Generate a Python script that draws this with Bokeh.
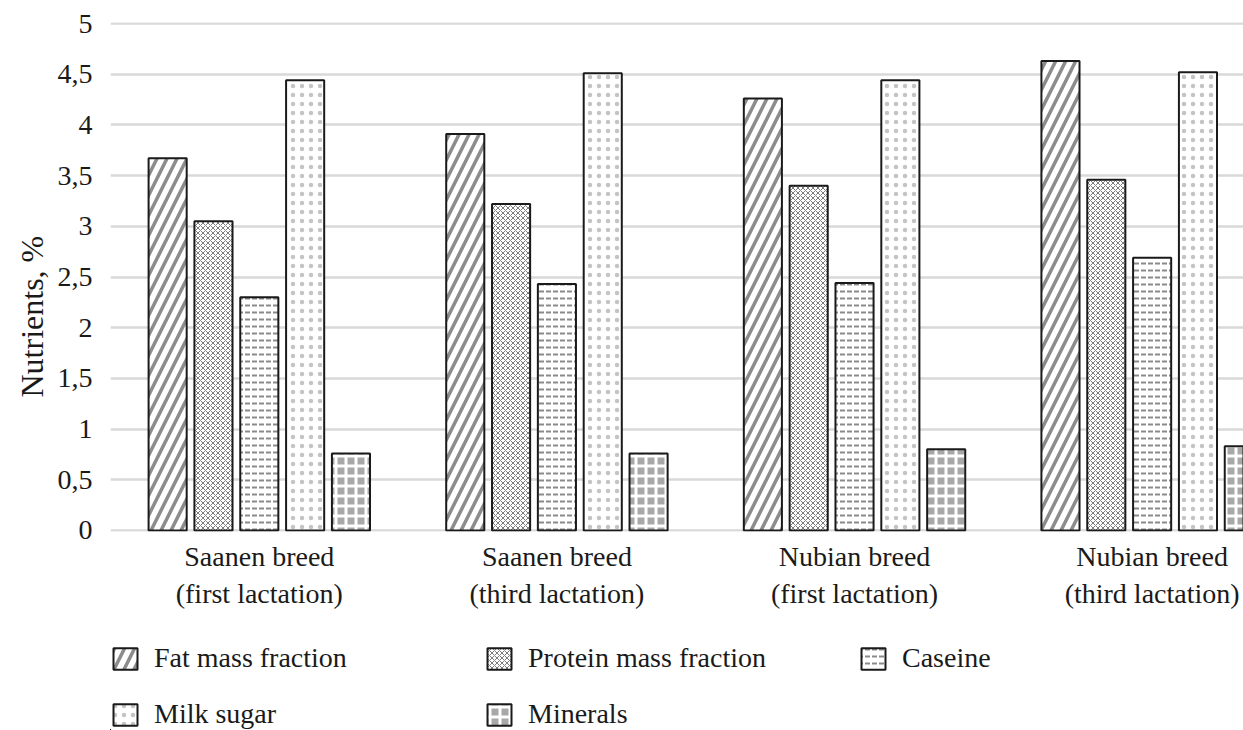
from bokeh.plotting import figure
from bokeh.models import (ColumnDataSource, Range1d, FixedTicker, LinearAxis,
                          Legend, LegendItem, Title)
from bokeh.layouts import column
from bokeh.transform import dodge
from bokeh.embed import file_html
from bokeh.resources import INLINE

# Milk composition by breed and lactation, %
breed = ["Saanen breed", "Saanen breed", "Nubian breed", "Nubian breed"]
lactation = ["(first lactation)", "(third lactation)", "(first lactation)", "(third lactation)"]
fat = [3.67, 3.91, 4.26, 4.63]
protein = [3.05, 3.22, 3.40, 3.46]
caseine = [2.30, 2.43, 2.44, 2.69]
milk_sugar = [4.44, 4.51, 4.44, 4.52]
minerals = [0.76, 0.76, 0.80, 0.83]
series_names = ["Fat mass fraction", "Protein mass fraction", "Caseine",
                "Milk sugar", "Minerals"]
y_ticks = [0, 0.5, 1, 1.5, 2, 2.5, 3, 3.5, 4, 4.5, 5]

FONT = "Liberation Serif"
FS = "28px"
TEXT = "#1a1a1a"

pos = list(range(len(breed)))
src = ColumnDataSource(dict(x=pos, fat=fat, protein=protein, caseine=caseine,
                            sugar=milk_sugar, minerals=minerals))

cols = ["fat", "protein", "caseine", "sugar", "minerals"]
styles = [
    dict(fill_color="white", hatch_pattern="right_diagonal_line",
         hatch_color="#8c8c8c", hatch_weight=3.5, hatch_scale=20),
    dict(fill_color="white", hatch_pattern="diagonal_cross",
         hatch_color="#7c7c7c", hatch_weight=1, hatch_scale=5),
    dict(fill_color="white", hatch_pattern="horizontal_dash",
         hatch_color="#8a8a8a", hatch_weight=2, hatch_scale=7),
    dict(fill_color="white", hatch_pattern="dot",
         hatch_color="#c4c4c4", hatch_weight=1, hatch_scale=9),
    dict(fill_color="#a8a8a8", hatch_pattern="cross",
         hatch_color="white", hatch_weight=3, hatch_scale=10),
]
step = 0.154
width = 0.128

p = figure(width=1243, height=618, output_backend="svg", toolbar_location=None,
           x_range=Range1d(-0.5, 3.307), y_range=Range1d(-0.01, 5.01),
           min_border_left=110, min_border_right=0, min_border_top=22,
           min_border_bottom=87, x_axis_type=None)
p.outline_line_color = None
p.background_fill_color = "white"
p.border_fill_color = "white"

# y axis with comma decimals
p.yaxis.ticker = FixedTicker(ticks=y_ticks)
p.yaxis.major_label_overrides = {t: (f"{t:g}".replace(".", ",")) for t in y_ticks}
p.yaxis.axis_line_color = None
p.yaxis.major_tick_line_color = None
p.yaxis.minor_tick_line_color = None
p.yaxis.major_label_text_font = FONT
p.yaxis.major_label_text_font_size = FS
p.yaxis.major_label_text_color = TEXT
p.yaxis.major_label_standoff = 12

p.ygrid.ticker = FixedTicker(ticks=y_ticks)
p.ygrid.grid_line_color = "#d9d9d9"
p.ygrid.grid_line_width = 2.5
p.xgrid.visible = False

# two stacked category axes: breed on the first line, lactation on the second
for labels, standoff in ((breed, 3), (lactation, -3)):
    ax = LinearAxis(ticker=FixedTicker(ticks=pos),
                    major_label_overrides={i: s for i, s in enumerate(labels)})
    ax.axis_line_color = None
    ax.major_tick_line_color = None
    ax.minor_tick_line_color = None
    ax.major_label_text_font = FONT
    ax.major_label_text_font_size = FS
    ax.major_label_text_color = TEXT
    ax.major_label_standoff = standoff
    p.add_layout(ax, "below")

# vertical axis title
p.add_layout(Title(text="Nutrients, %", text_font=FONT, text_font_size="32px",
                   text_font_style="normal", text_color=TEXT, align="left",
                   offset=134), "left")

for col, st in zip(cols, styles):
    p.vbar(x=dodge("x", (cols.index(col) - 2) * step), top=col, width=width,
           bottom=0, source=src, line_color="#1a1a1a", line_width=2, **st)

# legend strip underneath; its swatches come from the same bar styles,
# drawn well outside this strip's visible ranges
leg = figure(width=1243, height=112, output_backend="svg", toolbar_location=None,
             x_range=Range1d(100, 101), y_range=Range1d(100, 101),
             min_border=0, x_axis_type=None, y_axis_type=None)
leg.outline_line_color = None
leg.grid.visible = False
items = []
for name, col, st in zip(series_names, cols, styles):
    r = leg.vbar(x="x", top=col, width=width, bottom=0, source=src,
                 line_color="#1a1a1a", line_width=2, **st)
    items.append(LegendItem(label=name, renderers=[r]))

legend = Legend(items=items, orientation="horizontal", ncols=3,
                location=(0, 0), padding=0, margin=0, spacing=24,
                glyph_width=30, glyph_height=27, label_standoff=14,
                label_width=306, label_text_font=FONT, label_text_font_size=FS,
                label_text_color=TEXT, border_line_color=None,
                background_fill_alpha=0)
leg.add_layout(legend, "center")

open("out.html", "w").write(file_html(column(p, leg, spacing=0), INLINE))
